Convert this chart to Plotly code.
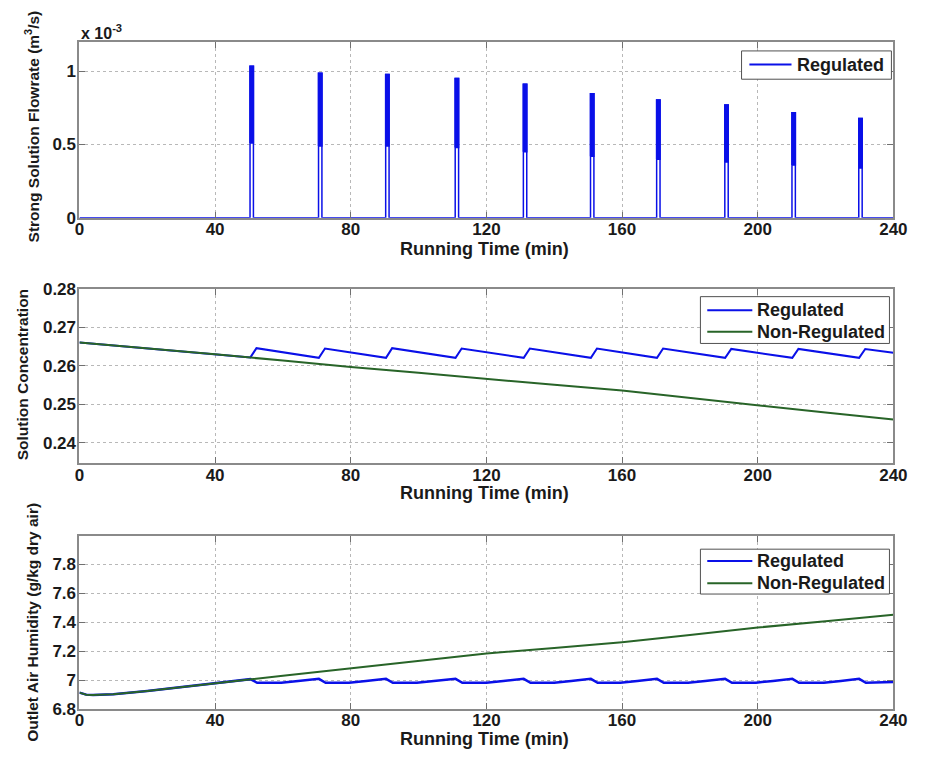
import plotly.graph_objects as go

W, H = 925, 762

# ---------------- data ----------------
x_ticks = [0, 40, 80, 120, 160, 200, 240]

# Panel 1: strong solution flowrate pulses (m^3/s)
pulse_start = [50.3, 70.5, 90.3, 110.8, 130.9, 150.7, 170.2, 190.3, 210.1, 229.8]
pulse_peak = [1.035e-3, 0.988e-3, 0.978e-3, 0.951e-3, 0.913e-3,
              0.848e-3, 0.804e-3, 0.770e-3, 0.718e-3, 0.678e-3]
pulse_tail = [0.51e-3, 0.49e-3, 0.49e-3, 0.48e-3, 0.45e-3,
              0.42e-3, 0.40e-3, 0.38e-3, 0.36e-3, 0.34e-3]
pulse_width = 1.0
flow_ticks = [0, 0.5e-3, 1e-3]
flow_ticktext = ["0", "0.5", "1"]

# Panel 2: solution concentration
conc_t = [0, 20, 40, 60, 80, 100, 120, 140, 160, 180, 200, 220, 240]
conc_nonreg = [0.2661, 0.2646, 0.2630, 0.2614, 0.2597, 0.2582, 0.2566,
               0.2551, 0.2536, 0.2517, 0.2497, 0.2479, 0.2461]
conc_reg_t = [0, 20, 40, 50.4, 52.2, 70.6, 72.4, 90.4, 92.2, 110.9, 112.7,
              131.0, 132.8, 150.8, 152.6, 170.3, 172.1, 190.4, 192.2,
              210.2, 212.0, 229.9, 231.7, 240]
conc_reg = [0.2661, 0.2646, 0.2630, 0.2622, 0.2646, 0.2621, 0.2645, 0.2621,
            0.2646, 0.2621, 0.2645, 0.2621, 0.2645, 0.2621, 0.2645, 0.2621,
            0.2645, 0.2621, 0.2644, 0.2621, 0.2644, 0.2621, 0.2644, 0.2634]
conc_ticks = [0.24, 0.25, 0.26, 0.27, 0.28]

# Panel 3: outlet air humidity (g/kg dry air)
hum_t = [0, 2, 4, 10, 20, 30, 40, 50, 60, 80, 100, 120, 140, 160, 180,
         200, 220, 240]
hum_nonreg = [6.914, 6.900, 6.897, 6.903, 6.925, 6.953, 6.980, 7.005, 7.031,
              7.083, 7.133, 7.184, 7.223, 7.263, 7.313, 7.364, 7.408, 7.453]
hum_reg_t = [0, 2, 4, 10, 20, 30, 40, 50.4,
             52.4, 59.5, 64.5, 70.6,
             72.6, 79.5, 84.5, 90.4,
             92.4, 99.5, 104.5, 110.9,
             112.9, 120.0, 125.0, 131.0,
             133.0, 140.0, 145.0, 150.8,
             152.8, 159.5, 164.5, 170.3,
             172.3, 179.5, 184.5, 190.4,
             192.4, 199.5, 204.5, 210.2,
             212.2, 219.5, 224.5, 229.9,
             231.9, 236.0, 240]
hum_reg = [6.914, 6.900, 6.897, 6.903, 6.925, 6.953, 6.980, 7.007,
           6.982, 6.983, 6.995, 7.009,
           6.982, 6.983, 6.995, 7.009,
           6.982, 6.983, 6.995, 7.009,
           6.982, 6.983, 6.995, 7.009,
           6.982, 6.983, 6.995, 7.009,
           6.982, 6.983, 6.995, 7.009,
           6.982, 6.983, 6.995, 7.009,
           6.982, 6.983, 6.995, 7.009,
           6.982, 6.983, 6.995, 7.009,
           6.982, 6.983, 6.987]
hum_ticks = [6.8, 7.0, 7.2, 7.4, 7.6, 7.8]
hum_ticktext = ["6.8", "7", "7.2", "7.4", "7.6", "7.8"]

legend_names = ["Regulated", "Non-Regulated"]

# ---------------- style ----------------
BLUE = "#0a10e8"
GREEN = "#286428"
FONT = "Liberation Sans"
TXT = "#1a1a1a"


def px(x):
    return x / W


def py(y):
    return 1 - y / H


# pulse outline and the densely switching band of each pulse
fx, fy = [0], [0]
bx, by = [], []
for s, p, e in zip(pulse_start, pulse_peak, pulse_tail):
    fx += [s, s, s + pulse_width, s + pulse_width]
    fy += [0, p, p, 0]
    bx += [s, s, s + pulse_width, s + pulse_width, s, None]
    by += [e, p, p, e, e, None]
fx.append(240)
fy.append(0)

fig = go.Figure()
fig.add_trace(go.Scatter(x=bx, y=by, mode="lines", name=legend_names[0],
                         fill="toself", fillcolor=BLUE,
                         line=dict(color=BLUE, width=1.5), xaxis="x", yaxis="y",
                         showlegend=False))
fig.add_trace(go.Scatter(x=fx, y=fy, mode="lines", name=legend_names[0],
                         line=dict(color=BLUE, width=1.5), xaxis="x", yaxis="y",
                         showlegend=False))
fig.add_trace(go.Scatter(x=conc_reg_t, y=conc_reg, mode="lines", name=legend_names[0],
                         line=dict(color=BLUE, width=2), xaxis="x2", yaxis="y2",
                         showlegend=False))
fig.add_trace(go.Scatter(x=conc_t, y=conc_nonreg, mode="lines", name=legend_names[1],
                         line=dict(color=GREEN, width=2), xaxis="x2", yaxis="y2",
                         showlegend=False))
fig.add_trace(go.Scatter(x=hum_reg_t, y=hum_reg, mode="lines", name=legend_names[0],
                         line=dict(color=BLUE, width=2.5), xaxis="x3", yaxis="y3",
                         showlegend=False))
fig.add_trace(go.Scatter(x=hum_t, y=hum_nonreg, mode="lines", name=legend_names[1],
                         line=dict(color=GREEN, width=2), xaxis="x3", yaxis="y3",
                         showlegend=False))

xdom = [px(76), px(907)]
panels = [(34, 214), (287, 466), (540, 718)]

axis_common = dict(
    showline=True, linecolor="#8a8a8a", linewidth=2, mirror="ticks",
    ticks="inside", ticklen=6, tickwidth=1, tickcolor="#707070",
    showgrid=True, gridcolor="#b8b8b8", griddash="dot", gridwidth=1,
    zeroline=False,
    tickfont=dict(family=FONT, size=17, color=TXT, weight="bold"),
)

layout = dict(
    width=W, height=H, margin=dict(l=0, r=0, t=0, b=0),
    paper_bgcolor="white", plot_bgcolor="white", showlegend=False,
)

for i, (top, bot) in enumerate(panels):
    sfx = "" if i == 0 else str(i + 1)
    layout["xaxis" + sfx] = dict(
        axis_common, domain=xdom, range=[0, 240], tickvals=x_ticks,
        anchor="y" + sfx, ticklabelstandoff=-5,
    )
    layout["yaxis" + sfx] = dict(
        axis_common, domain=[py(bot), py(top)], anchor="x" + sfx,
        ticklabelstandoff=-2,
    )

layout["yaxis"].update(range=[0, 1.2e-3], tickvals=flow_ticks, ticktext=flow_ticktext)
layout["yaxis2"].update(range=[0.2347, 0.28], tickvals=conc_ticks,
                        ticktext=[f"{v:.2f}" for v in conc_ticks])
layout["yaxis3"].update(range=[6.8, 8.0], tickvals=hum_ticks, ticktext=hum_ticktext)

fig.update_layout(**layout)

# ---- legends (box, line samples, labels) ----
legends = [
    (752, 905, 43, 72, 760, 803, 807, [57], [BLUE]),
    (710, 903, 295, 343, 717, 763, 766, [309, 331], [BLUE, GREEN]),
    (710, 903, 554, 600, 717, 763, 766, [566, 589], [BLUE, GREEN]),
]
for (x0, x1, y0, y1, sx0, sx1, tx, ys, cols) in legends:
    fig.add_shape(type="rect", xref="paper", yref="paper",
                  x0=px(x0), x1=px(x1), y0=py(y1), y1=py(y0),
                  fillcolor="white", line=dict(color="#505050", width=1))
    for k, (yy, col) in enumerate(zip(ys, cols)):
        fig.add_shape(type="line", xref="paper", yref="paper",
                      x0=px(sx0), x1=px(sx1), y0=py(yy), y1=py(yy),
                      line=dict(color=col, width=2))
        fig.add_annotation(text=legend_names[k], x=px(tx), y=py(yy),
                           xref="paper", yref="paper", showarrow=False,
                           xanchor="left", yanchor="middle",
                           font=dict(family=FONT, size=18, color=TXT, weight="bold"))

# axis titles as annotations
for yy in [246, 496, 749]:
    fig.add_annotation(text="Running Time (min)", x=px(490), y=py(yy),
                       xref="paper", yref="paper", showarrow=False,
                       xanchor="center", yanchor="middle",
                       font=dict(family=FONT, size=18, color=TXT, weight="bold"))

ytitles = [("Strong Solution Flowrate (m<sup>3</sup>/s)", 28, 120),
           ("Solution Concentration", 18, 375),
           ("Outlet Air Humidity (g/kg dry air)", 28, 629)]
for txt, xx, yy in ytitles:
    fig.add_annotation(text=txt, x=px(xx), y=py(yy), xref="paper", yref="paper",
                       showarrow=False, textangle=-90, xanchor="center",
                       yanchor="middle",
                       font=dict(family=FONT, size=15.5, color=TXT, weight="bold"))

fig.add_annotation(text="x 10<sup>-3</sup>", x=px(76), y=py(24), xref="paper",
                   yref="paper", showarrow=False, xanchor="left", yanchor="middle",
                   font=dict(family=FONT, size=16, color=TXT, weight="bold"))

fig.write_html("out.html",
               post_script="document.body.style.margin='0';"
                           "document.body.style.overflow='hidden';")
